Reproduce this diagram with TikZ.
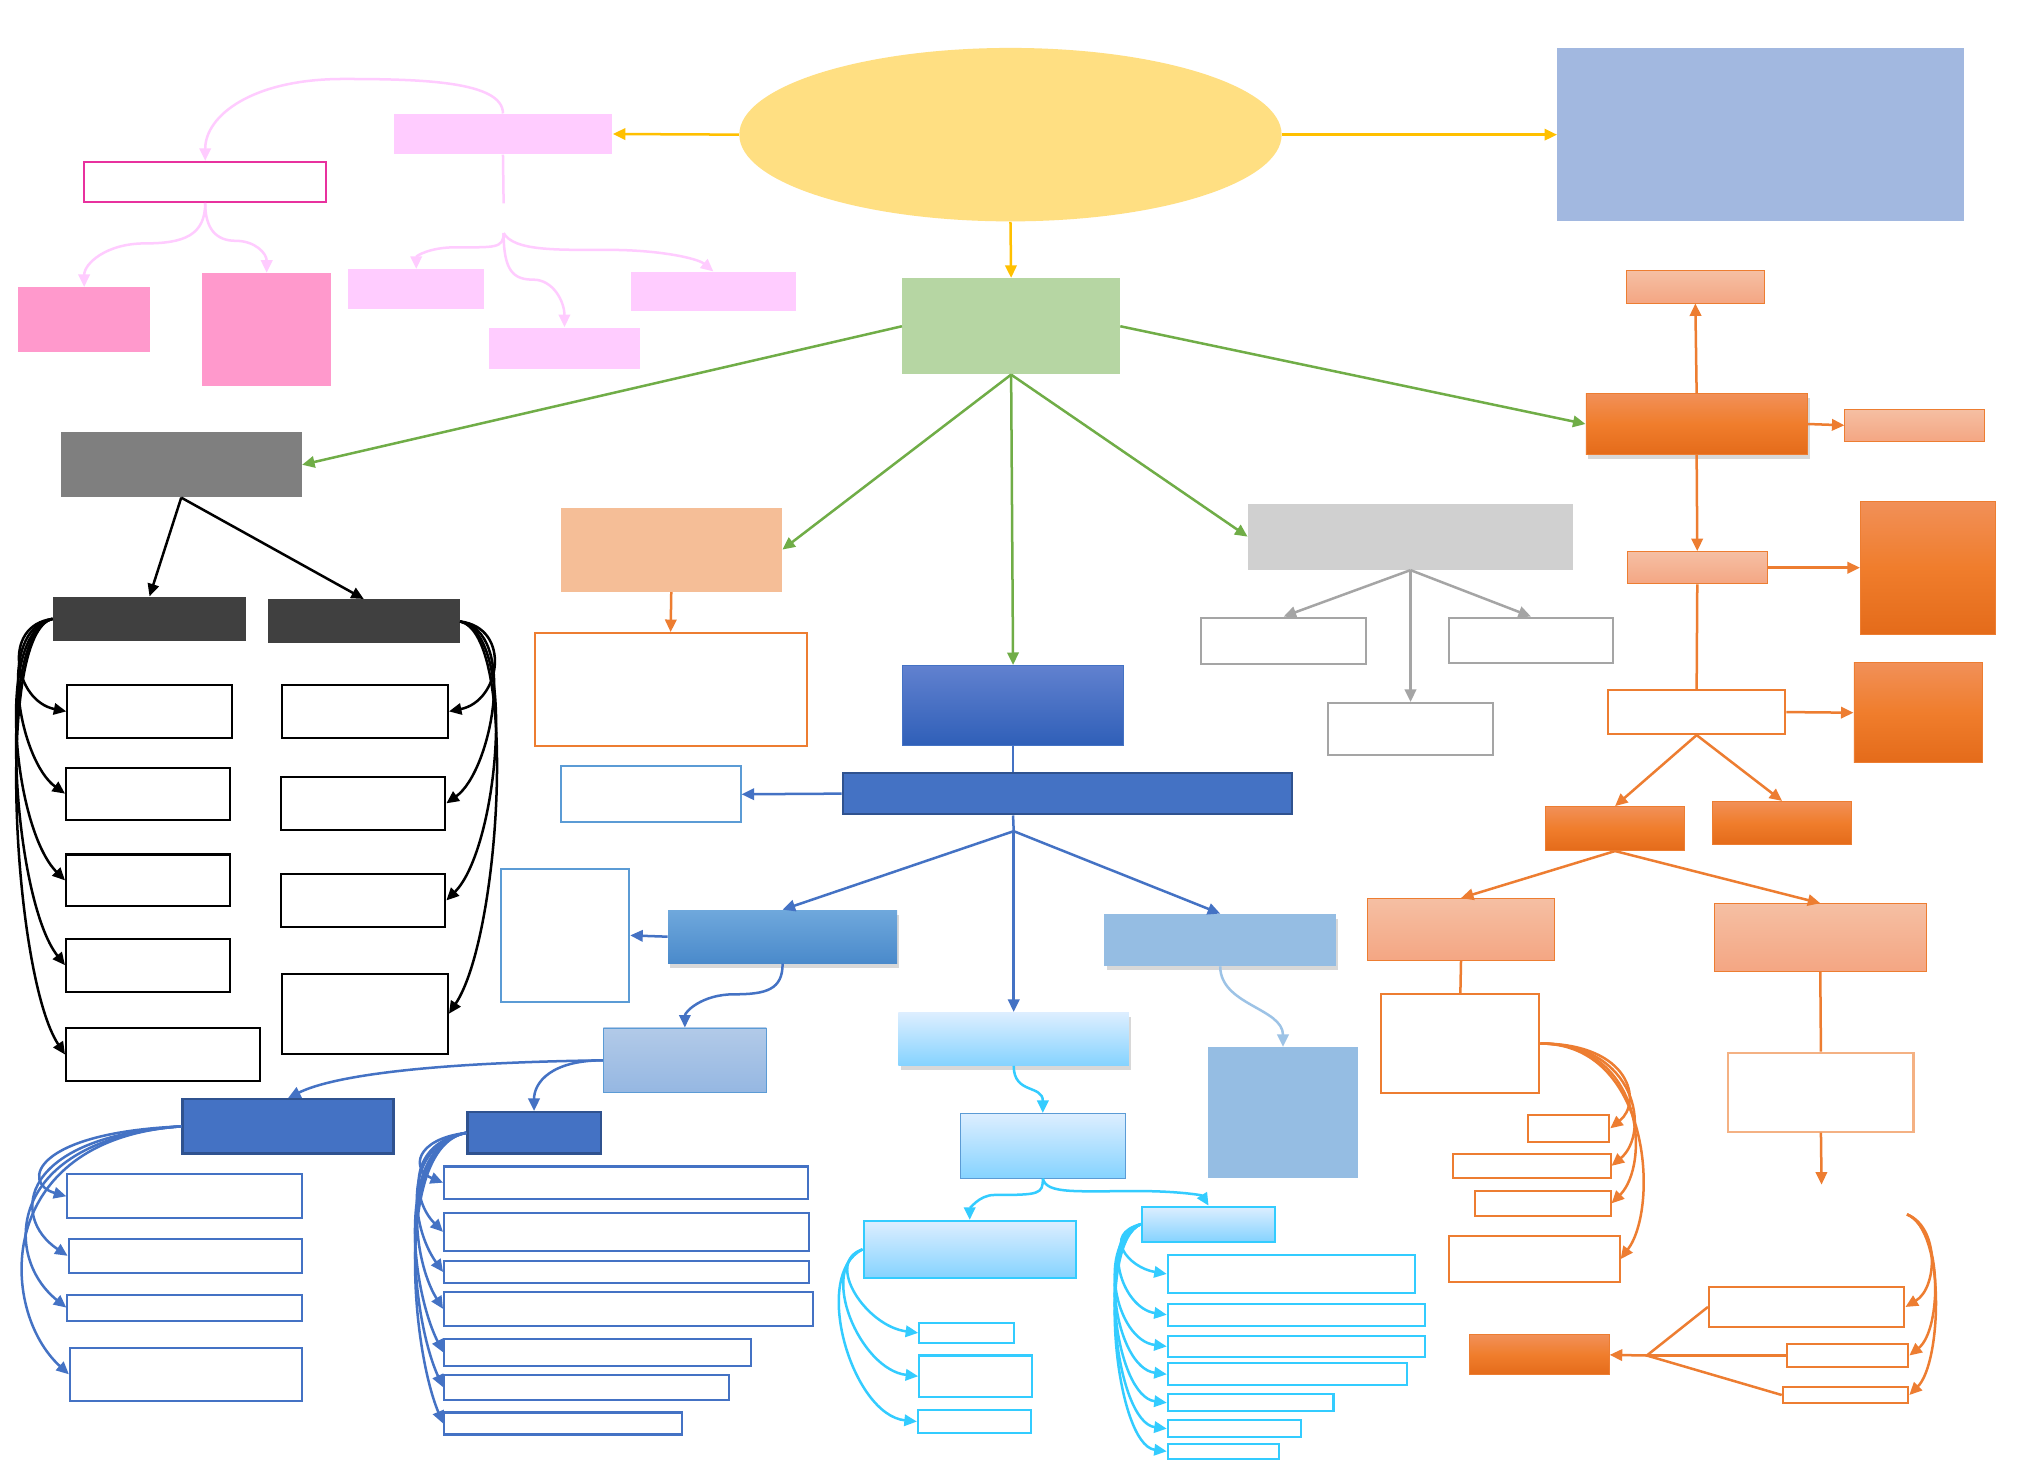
\documentclass[tikz,border=0pt]{standalone}
\usepackage{tikz}
\usetikzlibrary{arrows.meta,positioning,shapes.geometric,fit,calc,shadows}

\definecolor{hubyellow}{HTML}{FFDF82}
\definecolor{arryellow}{HTML}{FFC000}
\definecolor{slateblue}{HTML}{A2B8E0}
\definecolor{pinklight}{HTML}{FFCCFF}
\definecolor{pinkmid}{HTML}{FF99CC}
\definecolor{magentaline}{HTML}{E8319E}
\definecolor{greenfill}{HTML}{B6D6A3}
\definecolor{greenline}{HTML}{70AD47}
\definecolor{greymid}{HTML}{7F7F7F}
\definecolor{greydark}{HTML}{404040}
\definecolor{greylight}{HTML}{D0D0D0}
\definecolor{greyline}{HTML}{A5A5A5}
\definecolor{peach}{HTML}{F5BE97}
\definecolor{orangeline}{HTML}{ED7D31}
\definecolor{orangesoft}{HTML}{F4B183}
\definecolor{orangetop}{HTML}{F19058}
\definecolor{orangemid}{HTML}{F07D2C}
\definecolor{orangebot}{HTML}{E46B1A}
\definecolor{peachtop}{HTML}{F5BFA3}
\definecolor{peachbot}{HTML}{F4A683}
\definecolor{blueline}{HTML}{4472C4}
\definecolor{bluedark}{HTML}{2F528F}
\definecolor{bluesoft}{HTML}{5B9BD5}
\definecolor{bluetop}{HTML}{6181CF}
\definecolor{bluebot}{HTML}{2F5FB8}
\definecolor{skytop}{HTML}{6FA8DC}
\definecolor{skybot}{HTML}{4A8ACB}
\definecolor{mistblue}{HTML}{95BDE3}
\definecolor{misttop}{HTML}{B2CAE8}
\definecolor{mistbot}{HTML}{95B7E2}
\definecolor{mistline}{HTML}{9DC3E6}
\definecolor{icetop}{HTML}{DDEEFF}
\definecolor{icebot}{HTML}{85D3FF}
\definecolor{cyanline}{HTML}{33CCFF}

\begin{document}
\begin{tikzpicture}[x=0.02cm, y=-0.02cm,
  >={Triangle[length=5.5pt,width=5pt]},
  box/.style={rectangle, inner sep=0pt},
  wbox/.style={box, draw=#1, fill=white, line width=0.9pt},
  orangegrad/.style={box, draw=orangeline, top color=orangetop, bottom color=orangebot, middle color=orangemid},
  peachgrad/.style={box, draw=orangeline, top color=peachtop, bottom color=peachbot},
  icegrad/.style={box, top color=icetop, bottom color=icebot},
  shadowed/.style={drop shadow={shadow xshift=1pt, shadow yshift=-2pt, opacity=0.3}},
  arr/.style={->, line width=1.1pt, draw=#1},
  link/.style={line width=1.1pt, draw=#1}
]
\path[use as bounding box, fill=white] (0,0) rectangle (1568,1130);

% Top row
\node[ellipse, fill=hubyellow, inner sep=0pt, minimum width=8.38cm, minimum height=2.68cm] (hub) at (780.5,104) {};
\node[box, fill=slateblue, fit={(1203,37) (1517,171)}] (goal) {};
\node[box, fill=pinklight, fit={(304,88) (473,119)}] (pinkhead) {};
\node[wbox=magentaline, fit={(65,125) (252,156)}] (pinkframe) {};
\node[box, fill=pinkmid, fit={(14,222) (116,272)}] (pinkA) {};
\node[box, fill=pinkmid, fit={(156,211) (256,298)}] (pinkB) {};
\node[box, fill=pinklight, fit={(269,208) (374,239)}] (pinkC) {};
\node[box, fill=pinklight, fit={(378,253) (494,285)}] (pinkD) {};
\node[box, fill=pinklight, fit={(487,210) (615,240)}] (pinkE) {};
\coordinate (pinkstub) at (389,157);
\coordinate (pinkfork) at (389,180);

\draw[arr=pinklight] (pinkhead.north) .. controls +(0,-25) and +(60,0) .. (265,61) .. controls +(-70,0) and +(0,-35) .. (pinkframe.north);
\draw[link=pinklight] (pinkhead.south) -- (pinkstub);
\draw[arr=pinklight] (pinkfork) .. controls +(0,12) and +(30,0) .. (352,191) .. controls +(-20,0) and +(0,-10) .. (pinkC.north);
\draw[arr=pinklight] (pinkfork) .. controls +(0,30) and +(-15,0) .. (412,216) .. controls +(15,0) and +(0,-20) .. (pinkD.north);
\draw[arr=pinklight] (pinkfork) .. controls +(8,14) and +(-40,0) .. (470,193) .. controls +(40,0) and +(-12,-10) .. (pinkE.north);
\draw[arr=pinklight] (pinkframe.south) .. controls +(0,25) and +(30,0) .. (112,188) .. controls +(-30,0) and +(0,-18) .. (pinkA.north);
\draw[arr=pinklight] (pinkframe.south) .. controls +(0,20) and +(-15,0) .. (182,186) .. controls +(15,0) and +(0,-15) .. (pinkB.north);

% Second level
\node[box, fill=greenfill, fit={(697,215) (865,289)}] (mid) {};
\node[box, fill=greymid, fit={(47,334) (233,384)}] (grey) {};
\node[box, fill=peach, fit={(433,392) (604,457)}] (peach) {};
\node[wbox=orangeline, fit={(413,489) (623,576)}] (peachout) {};
\node[box, fill=greylight, fit={(964,389) (1215,440)}] (silver) {};
\node[wbox=greyline, fit={(928,477) (1055,513)}] (s1) {};
\node[wbox=greyline, fit={(1119,477) (1246,512)}] (s2) {};
\node[wbox=greyline, fit={(1026,543) (1153,583)}] (s3) {};

\draw[arr=orangeline] (peach.south) -- (peachout.north);
\draw[arr=greyline] (silver.south) -- (s1.north);
\draw[arr=greyline] (silver.south) -- (s2.north);
\draw[arr=greyline] (silver.south) -- (s3.north);

% Grey branch
\node[box, fill=greydark, fit={(41,461) (190,495)}] (darkL) {};
\node[box, fill=greydark, fit={(207,463) (355,497)}] (darkR) {};
\node[wbox=black, fit={(52,529) (179,570)}] (l1) {};
\node[wbox=black, fit={(51,593) (178,633)}] (l2) {};
\node[wbox=black, fit={(51,660) (178,700)}] (l3) {};
\node[wbox=black, fit={(51,725) (178,766)}] (l4) {};
\node[wbox=black, fit={(51,794) (201,835)}] (l5) {};
\node[wbox=black, fit={(218,529) (346,570)}] (r1) {};
\node[wbox=black, fit={(217,600) (344,641)}] (r2) {};
\node[wbox=black, fit={(217,675) (344,716)}] (r3) {};
\node[wbox=black, fit={(218,752) (346,814)}] (r4) {};

\draw[arr=black] (grey.south) -- (darkL.north);
\draw[arr=black] (grey.south) -- (darkR.north);
\draw[arr=black] (darkL.west) .. controls +(-40,5) and +(-40,-8) .. (l1.west);
\draw[arr=black] (darkL.west) .. controls +(-45,8) and +(-35,-25) .. (l2.west);
\draw[arr=black] (darkL.west) .. controls +(-45,10) and +(-40,-40) .. (l3.west);
\draw[arr=black] (darkL.west) .. controls +(-45,10) and +(-40,-50) .. (l4.west);
\draw[arr=black] (darkL.west) .. controls +(-45,10) and +(-40,-60) .. (l5.west);
\draw[arr=black] (darkR.east) .. controls +(40,5) and +(40,-8) .. (r1.east);
\draw[arr=black] (darkR.east) .. controls +(45,8) and +(35,-25) .. (r2.east);
\draw[arr=black] (darkR.east) .. controls +(45,10) and +(40,-40) .. (r3.east);
\draw[arr=black] (darkR.east) .. controls +(45,10) and +(40,-60) .. (r4.east);

% Blue branch
\node[box, draw=blueline, top color=bluetop, bottom color=bluebot, fit={(697,514) (868,576)}] (bhead) {};
\node[box, fill=blueline, draw=bluedark, line width=1pt, fit={(651,597) (998,629)}] (bbar) {};
\node[wbox=bluesoft, fit={(433,592) (572,635)}] (bnote) {};
\node[box, top color=skytop, bottom color=skybot, shadowed, fit={(516,703) (693,744)}] (bsky) {};
\node[wbox=bluesoft, fit={(387,671) (486,774)}] (bskynote) {};
\node[icegrad, shadowed, fit={(694,782) (872,823)}] (bice) {};
\node[box, fill=mistblue, shadowed, fit={(853,706) (1032,746)}] (bmist) {};
\node[box, fill=mistblue, fit={(933,809) (1049,910)}] (bmistbox) {};
\node[box, draw=bluesoft, top color=misttop, bottom color=mistbot, fit={(466,794) (592,844)}] (bpale) {};
\node[box, fill=blueline, draw=bluedark, line width=1pt, fit={(141,849) (304,891)}] (bdeepA) {};
\node[box, fill=blueline, draw=bluedark, line width=1pt, fit={(361,859) (464,891)}] (bdeepB) {};
\node[wbox=blueline, fit={(52,907) (233,941)}] (a1) {};
\node[wbox=blueline, fit={(53,957) (233,983)}] (a2) {};
\node[wbox=blueline, fit={(52,1000) (233,1020)}] (a3) {};
\node[wbox=blueline, fit={(54,1041) (233,1082)}] (a4) {};
\node[wbox=blueline, fit={(343,901) (624,926)}] (b1) {};
\node[wbox=blueline, fit={(343,937) (625,966)}] (b2) {};
\node[wbox=blueline, fit={(343,974) (625,991)}] (b3) {};
\node[wbox=blueline, fit={(343,998) (628,1024)}] (b4) {};
\node[wbox=blueline, fit={(343,1034) (580,1055)}] (b5) {};
\node[wbox=blueline, fit={(343,1062) (563,1081)}] (b6) {};
\node[wbox=blueline, fit={(343,1091) (527,1108)}] (b7) {};
\node[icegrad, draw=bluesoft, fit={(742,860) (869,910)}] (bice2) {};
\node[icegrad, draw=cyanline, line width=0.9pt, fit={(667,943) (831,987)}] (ciceA) {};
\node[icegrad, draw=cyanline, line width=0.9pt, fit={(882,932) (985,959)}] (ciceB) {};
\node[wbox=cyanline, fit={(710,1022) (783,1037)}] (c1) {};
\node[wbox=cyanline, fit={(710,1047) (797,1079)}] (c2) {};
\node[wbox=cyanline, fit={(709,1089) (796,1107)}] (c3) {};
\node[wbox=cyanline, fit={(902,969) (1093,999)}] (d1) {};
\node[wbox=cyanline, fit={(902,1007) (1101,1024)}] (d2) {};
\node[wbox=cyanline, fit={(902,1032) (1101,1048)}] (d3) {};
\node[wbox=cyanline, fit={(902,1053) (1087,1070)}] (d4) {};
\node[wbox=cyanline, fit={(902,1077) (1030,1090)}] (d5) {};
\node[wbox=cyanline, fit={(902,1097) (1005,1110)}] (d6) {};
\node[wbox=cyanline, fit={(902,1115) (988,1127)}] (d7) {};
\coordinate (bfork) at (783,642);

\draw[link=blueline] (bhead.south) -- (bhead.south |- bbar.north);
\draw[link=blueline] (bhead.south |- bbar.south) -- (bfork);
\draw[arr=blueline] (bbar.west) -- (bnote.east);
\draw[arr=blueline] (bfork) -- (bsky.north);
\draw[arr=blueline] (bfork) -- (bice.north);
\draw[arr=blueline] (bfork) -- (bmist.north);
\draw[arr=blueline] (bsky.west) -- (bskynote.east);
\draw[arr=blueline] (bsky.south) .. controls +(0,20) and +(25,0) .. (567,768) .. controls +(-25,0) and +(0,-12) .. (bpale.north);
\draw[arr=blueline] (bpale.west) .. controls +(-150,2) and +(30,-15) .. (bdeepA.north);
\draw[arr=blueline] (bpale.west) .. controls +(-40,0) and +(0,-22) .. (bdeepB.north);
\draw[arr=blueline] (bdeepA.west) .. controls +(-115,5) and +(-35,-10) .. (a1.west);
\draw[arr=blueline] (bdeepA.west) .. controls +(-125,8) and +(-45,-30) .. (a2.west);
\draw[arr=blueline] (bdeepA.west) .. controls +(-135,10) and +(-50,-40) .. (a3.west);
\draw[arr=blueline] (bdeepA.west) .. controls +(-145,10) and +(-55,-50) .. (a4.west);
\draw[arr=blueline] (bdeepB.west) .. controls +(-40,5) and +(-25,-10) .. (b1.west);
\draw[arr=blueline] (bdeepB.west) .. controls +(-45,8) and +(-25,-25) .. (b2.west);
\draw[arr=blueline] (bdeepB.west) .. controls +(-50,10) and +(-25,-35) .. (b3.west);
\draw[arr=blueline] (bdeepB.west) .. controls +(-50,10) and +(-25,-40) .. (b4.west);
\draw[arr=blueline] (bdeepB.west) .. controls +(-55,10) and +(-25,-50) .. (b5.west);
\draw[arr=blueline] (bdeepB.west) .. controls +(-55,10) and +(-25,-55) .. (b6.west);
\draw[arr=blueline] (bdeepB.west) .. controls +(-55,10) and +(-25,-60) .. (b7.west);
\draw[arr=mistline] (bmist.south) .. controls +(0,30) and +(0,-30) .. (bmistbox.north);
\draw[arr=cyanline] (bice.south) .. controls +(0,22) and +(0,-22) .. (bice2.north);
\draw[arr=cyanline] (bice2.south) .. controls +(0,12) and +(35,0) .. (768,923) .. controls +(-12,0) and +(0,-8) .. (ciceA.north);
\draw[arr=cyanline] (bice2.south) .. controls +(3,12) and +(-50,0) .. (880,920) .. controls +(30,0) and +(-5,-8) .. (ciceB.north);
\draw[arr=cyanline] (ciceA.west) .. controls +(-30,10) and +(-40,-5) .. (c1.west);
\draw[arr=cyanline] (ciceA.west) .. controls +(-35,15) and +(-45,-5) .. (c2.west);
\draw[arr=cyanline] (ciceA.west) .. controls +(-40,20) and +(-50,-5) .. (c3.west);
\draw[arr=cyanline] (ciceB.west) .. controls +(-30,8) and +(-30,-5) .. (d1.west);
\draw[arr=cyanline] (ciceB.west) .. controls +(-32,10) and +(-35,-5) .. (d2.west);
\draw[arr=cyanline] (ciceB.west) .. controls +(-35,15) and +(-40,-5) .. (d3.west);
\draw[arr=cyanline] (ciceB.west) .. controls +(-35,15) and +(-40,-5) .. (d4.west);
\draw[arr=cyanline] (ciceB.west) .. controls +(-35,15) and +(-40,-5) .. (d5.west);
\draw[arr=cyanline] (ciceB.west) .. controls +(-35,15) and +(-40,-5) .. (d6.west);
\draw[arr=cyanline] (ciceB.west) .. controls +(-35,15) and +(-40,-5) .. (d7.west);

% Orange branch
\node[orangegrad, shadowed, fit={(1225,304) (1396,351)}] (ohead) {};
\node[peachgrad, fit={(1256,209) (1363,234)}] (otop) {};
\node[peachgrad, fit={(1425,316) (1533,341)}] (oright) {};
\node[peachgrad, fit={(1257,426) (1365,451)}] (ostep) {};
\node[orangegrad, fit={(1437,387) (1541,490)}] (obigA) {};
\node[wbox=orangeline, fit={(1242,533) (1379,567)}] (owhite) {};
\node[orangegrad, fit={(1432,512) (1531,589)}] (obigB) {};
\node[orangegrad, fit={(1194,623) (1301,657)}] (osubA) {};
\node[orangegrad, fit={(1323,619) (1430,652)}] (osubB) {};
\node[peachgrad, fit={(1056,694) (1201,742)}] (opeachA) {};
\node[peachgrad, fit={(1324,698) (1488,750)}] (opeachB) {};
\node[wbox=orangeline, fit={(1067,768) (1189,844)}] (onoteA) {};
\node[wbox=orangesoft, fit={(1335,813) (1478,874)}] (onoteB) {};
\node[wbox=orangeline, fit={(1180,861) (1243,882)}] (e1) {};
\node[wbox=orangeline, fit={(1122,891) (1244,910)}] (e2) {};
\node[wbox=orangeline, fit={(1139,920) (1244,939)}] (e3) {};
\node[wbox=orangeline, fit={(1119,955) (1251,990)}] (e4) {};
\node[wbox=orangeline, fit={(1320,994) (1471,1025)}] (f1) {};
\node[wbox=orangeline, fit={(1380,1038) (1474,1056)}] (f2) {};
\node[wbox=orangeline, fit={(1377,1071) (1474,1084)}] (f3) {};
\node[orangegrad, fit={(1135,1031) (1243,1062)}] (oend) {};
\coordinate (odrop) at (1407,915);
\coordinate (oloop) at (1473,938);
\coordinate (ojoin) at (1272,1047);

\draw[arr=orangeline] (ohead.north) -- (otop.south);
\draw[arr=orangeline] (ohead.east) -- (oright.west);
\draw[arr=orangeline] (ohead.south) -- (ostep.north);
\draw[arr=orangeline] (ostep.east) -- (obigA.west);
\draw[link=orangeline] (ostep.south) -- (owhite.north);
\draw[arr=orangeline] (owhite.east) -- (obigB.west);
\draw[arr=orangeline] (owhite.south) -- (osubA.north);
\draw[arr=orangeline] (owhite.south) -- (osubB.north);
\draw[arr=orangeline] (osubA.south) -- (opeachA.north);
\draw[arr=orangeline] (osubA.south) -- (opeachB.north);
\draw[link=orangeline] (opeachA.south) -- (onoteA.north);
\draw[link=orangeline] (opeachB.south) -- (onoteB.north);
\draw[arr=orangeline] (onoteB.south) -- (odrop);
\draw[arr=orangeline] (onoteA.east) .. controls +(70,0) and +(25,-20) .. (e1.east);
\draw[arr=orangeline] (onoteA.east) .. controls +(75,0) and +(30,-25) .. (e2.east);
\draw[arr=orangeline] (onoteA.east) .. controls +(80,0) and +(30,-30) .. (e3.east);
\draw[arr=orangeline] (onoteA.east) .. controls +(85,0) and +(30,-40) .. (e4.east);
\draw[arr=orangeline] (oloop) .. controls +(25,10) and +(25,-15) .. (f1.east);
\draw[arr=orangeline] (oloop) .. controls +(28,12) and +(25,-20) .. (f2.east);
\draw[arr=orangeline] (oloop) .. controls +(30,12) and +(25,-25) .. (f3.east);
\draw[link=orangeline] (f1.west) -- (ojoin);
\draw[link=orangeline] (f2.west) -- (ojoin);
\draw[link=orangeline] (f3.west) -- (ojoin);
\draw[arr=orangeline] (ojoin) -- (oend.east);

% Main links
\draw[arr=arryellow] (hub.west) -- (pinkhead.east);
\draw[arr=arryellow] (hub.east) -- (goal.west);
\draw[arr=arryellow] (hub.south) -- (mid.north);
\draw[arr=greenline] (mid.west) -- (grey.east);
\draw[arr=greenline] (mid.south) -- (peach.east);
\draw[arr=greenline] (mid.south) -- (bhead.north);
\draw[arr=greenline] (mid.south) -- (silver.west);
\draw[arr=greenline] (mid.east) -- (ohead.west);
\end{tikzpicture}
\end{document}
